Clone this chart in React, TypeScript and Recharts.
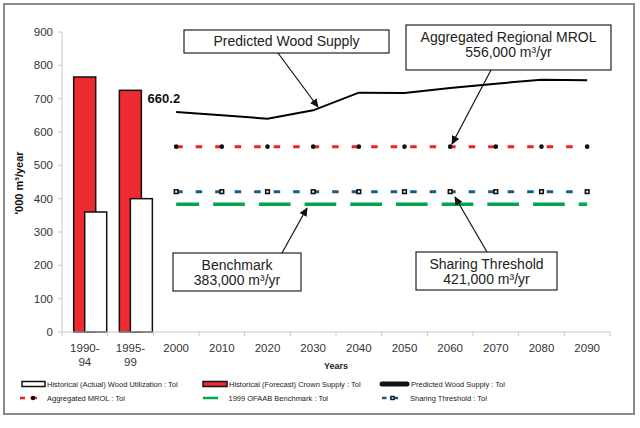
import { ComposedChart, Bar, Line, XAxis, YAxis, LabelList } from "recharts";

const categories = ["1990-94", "1995-99", "2000", "2010", "2020", "2030", "2040", "2050", "2060", "2070", "2080", "2090"];
const crownSupply = [765, 725, null, null, null, null, null, null, null, null, null, null];
const actualUtilization = [360, 400, null, null, null, null, null, null, null, null, null, null];
const predictedSupply = [null, null, 660.2, 650, 640, 665, 718, 717, 732, 745, 757, 755];
const mrol = [null, null, 556, 556, 556, 556, 556, 556, 556, 556, 556, 556];
const sharingThreshold = [null, null, 421, 421, 421, 421, 421, 421, 421, 421, 421, 421];
const benchmark = [null, null, 383, 383, 383, 383, 383, 383, 383, 383, 383, 383];
const yTicks = [0, 100, 200, 300, 400, 500, 600, 700, 800, 900];
const labelledYear = "2000";

const data = categories.map((cat, i) => ({
  cat,
  crown: crownSupply[i],
  actual: actualUtilization[i],
  predicted: predictedSupply[i],
  mrol: mrol[i],
  sharing: sharingThreshold[i],
  benchmark: benchmark[i],
}));

const FONT = "'Liberation Sans', Arial, sans-serif";
const BAR_SHIFT = 5.7;

// Excel draws the bar pair a little right of the category centre
function ShiftedBar(props: any) {
  const { x, y, width, height, fill } = props;
  if (!height || height <= 0) return null;
  return <rect x={x + BAR_SHIFT} y={y} width={width} height={height} fill={fill} stroke="#111" strokeWidth={1.5} />;
}

function XTick(props: any) {
  const { x, y, payload, index, visibleTicksCount } = props;
  const half = payload.offset || 0;
  const v: string = payload.value;
  const lines = v.includes("-") ? [v.split("-")[0] + "-", v.split("-")[1]] : [v];
  const axisY = y - 6;
  return (
    <g>
      <line x1={x - half} x2={x - half} y1={axisY} y2={axisY + 4} stroke="#c8c8c8" />
      {index === visibleTicksCount - 1 && (
        <line x1={x + half} x2={x + half} y1={axisY} y2={axisY + 4} stroke="#c8c8c8" />
      )}
      {lines.map((l, i) => (
        <text key={i} x={x} y={y + 14 + i * 14} textAnchor="middle" fontSize={11.5} fontFamily={FONT} fill="#333">
          {l}
        </text>
      ))}
    </g>
  );
}

function CircleDot(props: any) {
  const { cx, cy } = props;
  if (cy == null) return null;
  return <circle cx={cx} cy={cy} r={2.3} fill="#111" />;
}

function SquareDot(props: any) {
  const { cx, cy } = props;
  if (cy == null) return null;
  return <rect x={cx - 1.8} y={cy - 1.8} width={3.6} height={3.6} fill="#fff" stroke="#111" strokeWidth={1.6} />;
}

function Callout({ x, y, w, h, lines }: { x: number; y: number; w: number; h: number; lines: string[] }) {
  return (
    <g>
      <rect x={x} y={y} width={w} height={h} fill="#fff" stroke="#222" strokeWidth={1.2} />
      {lines.map((l, i) => (
        <text
          key={i}
          x={x + w / 2}
          y={y + (lines.length === 1 ? 16 : 17 + i * 15)}
          textAnchor="middle"
          fontSize={14}
          fontFamily={FONT}
          fill="#222"
        >
          {l}
        </text>
      ))}
    </g>
  );
}

function Arrow({ x1, y1, x2, y2 }: { x1: number; y1: number; x2: number; y2: number }) {
  return <line x1={x1} y1={y1} x2={x2} y2={y2} stroke="#111" strokeWidth={1.2} markerEnd="url(#arrowHead)" />;
}

function Overlay() {
  const legendText = { fontSize: 7.5, fontFamily: FONT, fill: "#222" };
  return (
    <svg width={640} height={428} style={{ position: "absolute", left: 0, top: 0, pointerEvents: "none" }}>
      <defs>
        <marker id="arrowHead" markerWidth="9" markerHeight="8" refX="8" refY="4" orient="auto" markerUnits="userSpaceOnUse">
          <path d="M0,0 L9,4 L0,8 z" fill="#111" />
        </marker>
      </defs>
      <rect x={4} y={4} width={630} height={410} fill="none" stroke="#8a8a8a" strokeWidth={2} />

      <Callout x={184} y={30} w={205} h={23} lines={["Predicted Wood Supply"]} />
      <Arrow x1={278} y1={53} x2={318} y2={107} />
      <Callout x={406} y={25} w={205} h={45} lines={["Aggregated Regional MROL", "556,000 m³/yr"]} />
      <Arrow x1={491} y1={70} x2={452} y2={144} />
      <Callout x={173} y={253} w={128} h={38} lines={["Benchmark", "383,000 m³/yr"]} />
      <Arrow x1={282} y1={253} x2={307} y2={208} />
      <Callout x={416} y={252} w={141} h={38} lines={["Sharing Threshold", "421,000 m³/yr"]} />
      <Arrow x1={487} y1={252} x2={455} y2={197} />

      <text transform="translate(19,183) rotate(-90)" textAnchor="middle" dominantBaseline="central" fontSize={11} fontWeight="bold" fontFamily={FONT} fill="#111">
        '000 m³/year
      </text>
      <text x={336} y={369} textAnchor="middle" fontSize={9} fontWeight="bold" fontFamily={FONT} fill="#222">
        Years
      </text>

      {/* legend row 1 */}
      <rect x={22} y={381.5} width={23} height={5} fill="#fff" stroke="#111" strokeWidth={1.5} />
      <text x={47} y={387} {...legendText}>Historical (Actual) Wood Utilization : Tol</text>
      <rect x={203} y={381.5} width={24} height={5} fill="#ee2b30" stroke="#111" strokeWidth={1.5} />
      <text x={229} y={387} {...legendText}>Historical (Forecast) Crown Supply : Tol</text>
      <line x1={382} y1={384} x2={407} y2={384} stroke="#111" strokeWidth={5} strokeLinecap="round" />
      <text x={411} y={387} {...legendText}>Predicted Wood Supply : Tol</text>

      {/* legend row 2 */}
      <line x1={20} y1={398} x2={25} y2={398} stroke="#f02020" strokeWidth={2.5} />
      <line x1={30.5} y1={398} x2={37} y2={398} stroke="#f02020" strokeWidth={2.5} />
      <circle cx={33} cy={398} r={2.2} fill="#111" />
      <text x={47} y={401} {...legendText}>Aggregated MROL : Tol</text>
      <line x1={203} y1={398} x2={218} y2={398} stroke="#00a550" strokeWidth={2.5} />
      <text x={228.5} y={401} {...legendText}>1999 OFAAB Benchmark : Tol</text>
      <line x1={382} y1={398} x2={386.5} y2={398} stroke="#1a5a8a" strokeWidth={2.5} />
      <line x1={390} y1={398} x2={398} y2={398} stroke="#1a5a8a" strokeWidth={2.5} />
      <rect x={391} y={396.5} width={3} height={3} fill="#fff" stroke="#111" strokeWidth={1.4} />
      <text x={410} y={401} {...legendText}>Sharing Threshold : Tol</text>
    </svg>
  );
}

export default function App() {
  const labelIndex = categories.indexOf(labelledYear);
  return (
    <div style={{ position: "absolute", left: 0, top: 0, width: 640, height: 428, background: "#fff" }}>
      <ComposedChart
        width={640}
        height={428}
        data={data}
        margin={{ top: 32, right: 30, left: 32, bottom: 56 }}
        barGap={-11}
      >
        <XAxis
          dataKey="cat"
          height={40}
          interval={0}
          tickSize={4}
          tickMargin={2}
          tickLine={false}
          axisLine={{ stroke: "#c8c8c8" }}
          tick={<XTick />}
        />
        <YAxis
          width={30}
          domain={[0, 900]}
          ticks={yTicks}
          interval={0}
          tickSize={4}
          tickMargin={5}
          axisLine={{ stroke: "#c8c8c8" }}
          tickLine={{ stroke: "#c8c8c8" }}
          tick={{ fontSize: 11.5, fontFamily: FONT, fill: "#333" }}
        />
        <Bar dataKey="crown" fill="#ee2b30" barSize={22} shape={<ShiftedBar />} isAnimationActive={false} />
        <Bar dataKey="actual" fill="#ffffff" barSize={22} shape={<ShiftedBar />} isAnimationActive={false} />
        <Line
          dataKey="benchmark"
          type="linear"
          stroke="#00a550"
          strokeWidth={3.5}
          strokeDasharray="31.7 14"
          strokeDashoffset={8.7}
          dot={false}
          activeDot={false}
          isAnimationActive={false}
        />
        <Line
          dataKey="sharing"
          type="linear"
          stroke="#1a5a8a"
          strokeWidth={3}
          strokeDasharray="6.5 13"
          dot={<SquareDot />}
          activeDot={false}
          isAnimationActive={false}
        />
        <Line
          dataKey="mrol"
          type="linear"
          stroke="#f02020"
          strokeWidth={3}
          strokeDasharray="6.5 13"
          dot={<CircleDot />}
          activeDot={false}
          isAnimationActive={false}
        />
        <Line
          dataKey="predicted"
          type="linear"
          stroke="#000"
          strokeWidth={2}
          dot={false}
          activeDot={false}
          isAnimationActive={false}
        >
          <LabelList
            dataKey="predicted"
            content={(p: any) =>
              p.index === labelIndex ? (
                <text x={p.x + 4} y={p.y - 9} textAnchor="end" fontSize={13} fontWeight="bold" fontFamily={FONT} fill="#111">
                  {p.value}
                </text>
              ) : null
            }
          />
        </Line>
      </ComposedChart>
      <Overlay />
    </div>
  );
}
